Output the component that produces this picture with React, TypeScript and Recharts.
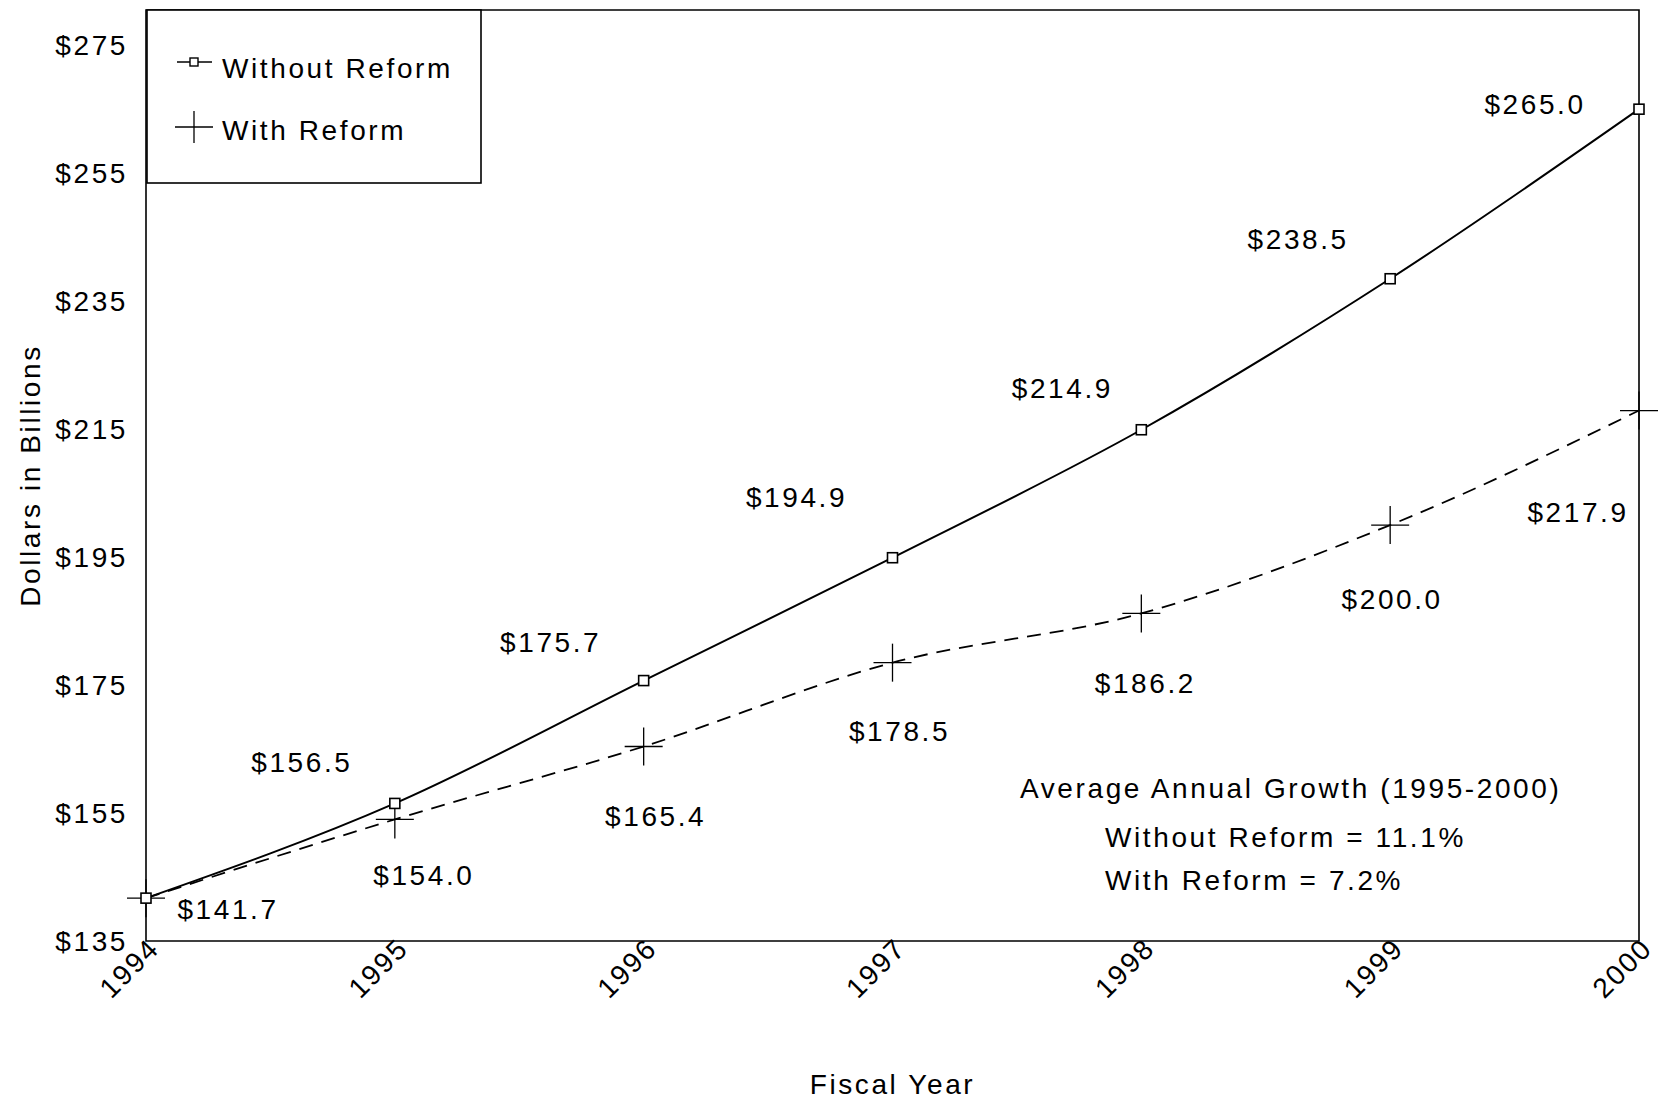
import React from 'react';
import {
  LineChart,
  Line,
  XAxis,
  YAxis,
  ReferenceArea,
  LabelList,
  Label,
} from 'recharts';

const years = [1994, 1995, 1996, 1997, 1998, 1999, 2000];
const withoutReform = [141.7, 156.5, 175.7, 194.9, 214.9, 238.5, 265.0];
const withReform = [141.7, 154.0, 165.4, 178.5, 186.2, 200.0, 217.9];
const yTicks = [135, 155, 175, 195, 215, 235, 255, 275];

// where each value label sits relative to its point (null = no label)
const withoutLabelOffsets: ([number, number] | null)[] = [
  [82, 11], [-93, -41], [-93, -38], [-96, -60], [-79, -41], [-92, -39], [-104, -5],
];
const withLabelOffsets: ([number, number] | null)[] = [
  null, [29, 56], [12, 70], [7, 69], [4, 70], [2, 74], [-61, 102],
];

const data = years.map((year, i) => ({
  year,
  without: withoutReform[i],
  with: withReform[i],
}));

const FONT = '"Liberation Sans", Arial, Helvetica, sans-serif';
const textStyle = { fontFamily: FONT, fontSize: 28, letterSpacing: 2.6, fill: '#000' };

function SquareDot(props: any) {
  const { cx, cy } = props;
  if (cx == null || cy == null) return null;
  return <rect x={cx - 5} y={cy - 5} width={10} height={10} fill="#fff" stroke="#000" strokeWidth={1.6} />;
}

function PlusDot(props: any) {
  const { cx, cy } = props;
  if (cx == null || cy == null) return null;
  return (
    <g stroke="#000" strokeWidth={1.3}>
      <line x1={cx - 19} y1={cy} x2={cx + 19} y2={cy} />
      <line x1={cx} y1={cy - 19} x2={cx} y2={cy + 19} />
    </g>
  );
}

function valueLabel(offsets: ([number, number] | null)[]) {
  return (p: any) => {
    const off = offsets[p.index];
    if (!off) return null;
    const x = p.x ?? p.viewBox?.x;
    const y = p.y ?? p.viewBox?.y;
    return (
      <text x={x + off[0]} y={y + off[1]} textAnchor="middle" dominantBaseline="central" style={textStyle}>
        {`$${Number(p.value).toFixed(1)}`}
      </text>
    );
  };
}

function YTick({ x, y, payload }: any) {
  return (
    <text x={x} y={y} textAnchor="end" dominantBaseline="central" style={textStyle}>
      {`$${payload.value}`}
    </text>
  );
}

function XTick({ x, y, payload }: any) {
  return (
    <g transform={`translate(${x + 15},${y + 9})`}>
      <text x={0} y={0} textAnchor="end" transform="rotate(-45)" style={{ ...textStyle, fontSize: 28, letterSpacing: 2 }}>
        {payload.value}
      </text>
    </g>
  );
}

export default function App() {
  return (
    <div style={{ position: 'absolute', left: 0, top: 0, width: 1658, height: 1098, background: '#fff' }}>
      <LineChart width={1658} height={1098} data={data} margin={{ top: 10, right: 19, left: 46, bottom: 57 }}>
        <XAxis
          dataKey="year"
          type="number"
          domain={[1994, 2000]}
          ticks={years}
          height={100}
          tickSize={0}
          tickMargin={0}
          axisLine={false}
          tickLine={false}
          tick={<XTick />}
        >
          <Label
            content={(p: any) => (
              <text
                x={p.viewBox.x + p.viewBox.width / 2}
                y={p.viewBox.y + 143}
                textAnchor="middle"
                dominantBaseline="central"
                style={textStyle}
              >
                Fiscal Year
              </text>
            )}
          />
        </XAxis>
        <YAxis
          type="number"
          domain={[135, 280.5]}
          ticks={yTicks}
          width={100}
          tickSize={0}
          tickMargin={18}
          axisLine={false}
          tickLine={false}
          tick={<YTick />}
        >
          <Label
            content={(p: any) => {
              const cx = p.viewBox.x - 16;
              const cy = p.viewBox.y + p.viewBox.height / 2;
              return (
                <text
                  x={cx}
                  y={cy}
                  textAnchor="middle"
                  dominantBaseline="central"
                  transform={`rotate(-90, ${cx}, ${cy})`}
                  style={textStyle}
                >
                  Dollars in Billions
                </text>
              );
            }}
          />
        </YAxis>
        <ReferenceArea x1={1994} x2={2000} y1={135} y2={280.5} fill="none" stroke="#000" strokeWidth={1.6} />
        <Line
          type="monotone"
          dataKey="with"
          stroke="#000"
          strokeWidth={1.8}
          strokeDasharray="14 9"
          dot={<PlusDot />}
          isAnimationActive={false}
        >
          <LabelList dataKey="with" content={valueLabel(withLabelOffsets)} />
        </Line>
        <Line
          type="monotone"
          dataKey="without"
          stroke="#000"
          strokeWidth={2}
          dot={<SquareDot />}
          isAnimationActive={false}
        >
          <LabelList dataKey="without" content={valueLabel(withoutLabelOffsets)} />
        </Line>
      </LineChart>

      <svg
        width={1658}
        height={1098}
        style={{ position: 'absolute', left: 0, top: 0, pointerEvents: 'none' }}
      >
        {/* legend box */}
        <rect x={147} y={10} width={334} height={173} fill="#fff" stroke="#000" strokeWidth={1.6} />
        <line x1={177} y1={62} x2={212} y2={62} stroke="#000" strokeWidth={1.6} />
        <rect x={190} y={58} width={8} height={8} fill="#fff" stroke="#000" strokeWidth={1.4} />
        <text x={222} y={68} dominantBaseline="central" style={textStyle}>Without Reform</text>
        <line x1={175} y1={127} x2={213} y2={127} stroke="#000" strokeWidth={1.3} />
        <line x1={194} y1={111} x2={194} y2={143} stroke="#000" strokeWidth={1.3} />
        <text x={222} y={130} dominantBaseline="central" style={textStyle}>With Reform</text>

        {/* growth note */}
        <text x={1020} y={788} dominantBaseline="central" style={textStyle}>Average Annual Growth (1995-2000)</text>
        <text x={1105} y={837} dominantBaseline="central" style={textStyle}>Without Reform = 11.1%</text>
        <text x={1105} y={880} dominantBaseline="central" style={textStyle}>With Reform = 7.2%</text>
      </svg>
    </div>
  );
}
